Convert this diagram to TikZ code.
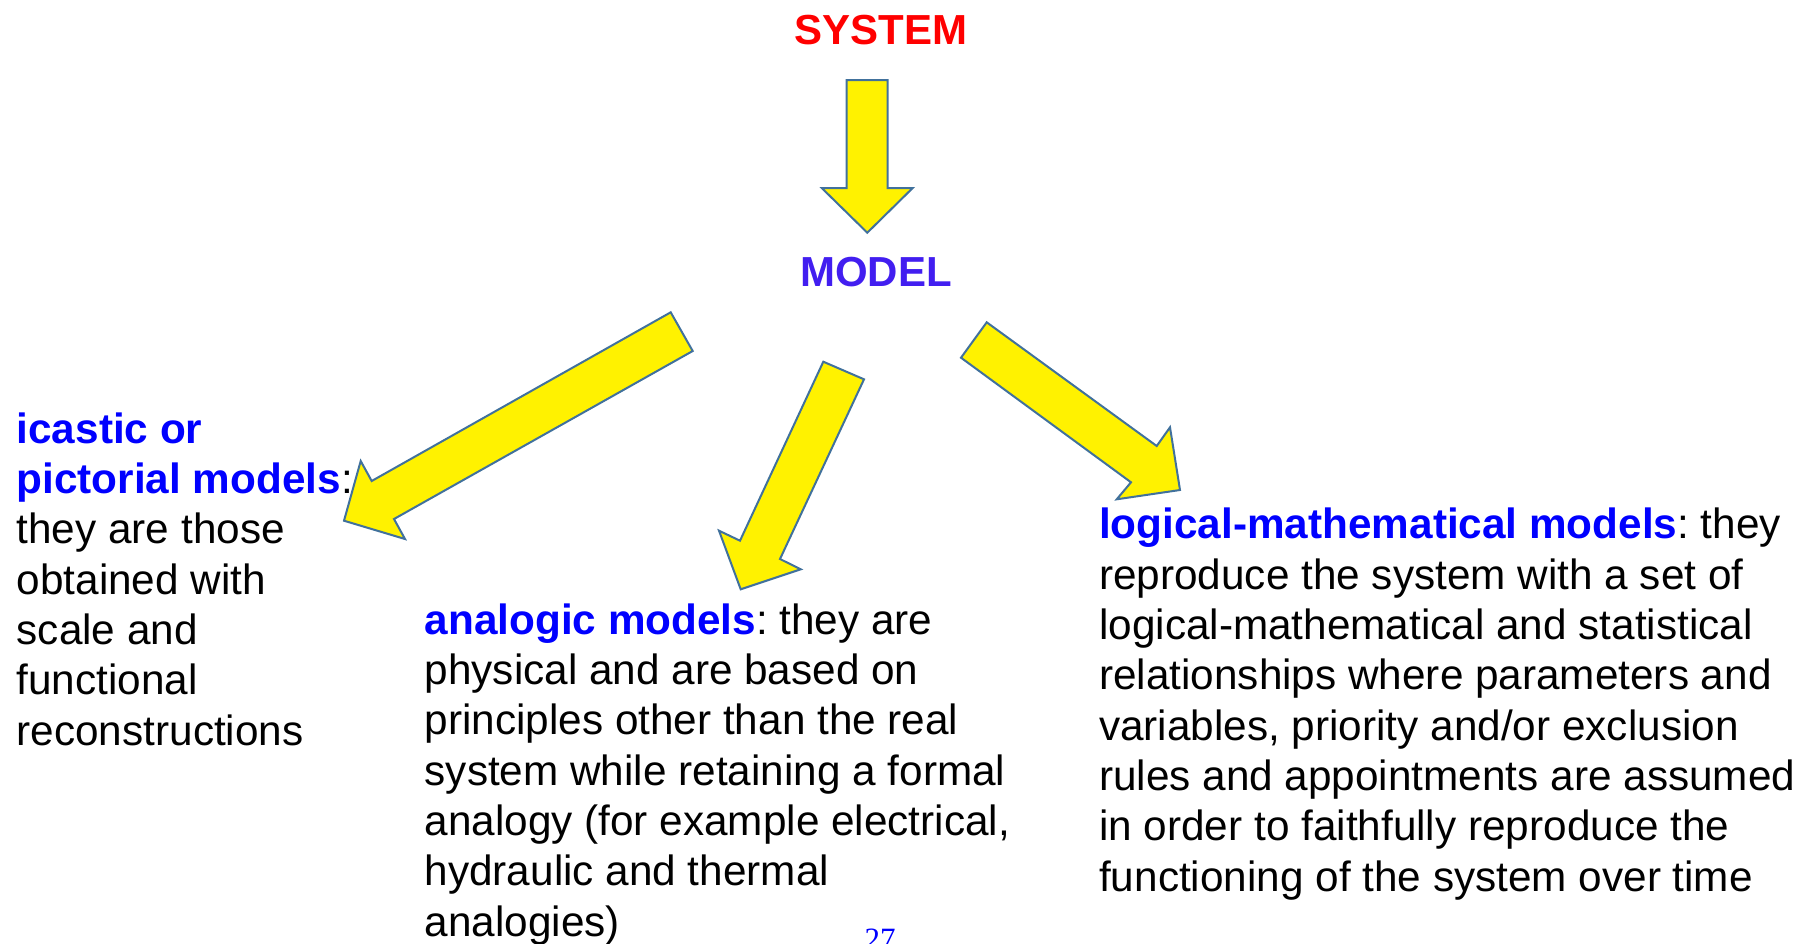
\documentclass[tikz,border=0pt]{standalone}
\usepackage{fontspec}
\setmainfont{Liberation Sans}
\newfontfamily\pagefont{Liberation Serif}
\definecolor{arrowedge}{RGB}{65,113,156}
\definecolor{headblue}{RGB}{0,0,255}
\definecolor{modelviolet}{RGB}{66,30,240}
\newcommand{\hd}[1]{{\color{headblue}\bfseries #1}}
\frenchspacing
\begin{document}
\begin{tikzpicture}[x=1pt,y=-1pt,
  blockarrow/.style={fill=yellow, draw=arrowedge, line width=2pt, line join=miter},
  title/.style={anchor=base, inner sep=0pt, font=\fontsize{42}{50}\selectfont\bfseries},
  % multi-line nodes: the base anchor sits on the last line's baseline
  body/.style={anchor=base west, align=left, inner sep=0pt, font=\fontsize{42.3}{50.3}\selectfont}]
\useasboundingbox (0,0) rectangle (1811,943);
\clip (0,0) rectangle (1811,943);

% titles
\node[title, text=red] (system) at (881,44) {SYSTEM};
\node[title, text=modelviolet] (model) at (876,286) {MODEL};

% block arrows
\draw[blockarrow] (846.7,80) -- (887.7,80) -- (887.7,188) -- (912.7,188)
  -- (867.3,232.7) -- (821.7,188) -- (846.7,188) -- cycle;
\draw[blockarrow] (670.7,312.3) -- (692.7,351) -- (394,519) -- (405,539)
  -- (344,520.7) -- (360.7,461) -- (371.7,481) -- cycle;
\draw[blockarrow] (823.3,361.7) -- (864,379.3) -- (780,559) -- (800.7,569.3)
  -- (740.7,589.3) -- (719,530.7) -- (740,540.7) -- cycle;
\draw[blockarrow] (986.7,322.3) -- (1156.7,446) -- (1170,427.3) -- (1180,490)
  -- (1116.7,499.3) -- (1131,482.3) -- (961,357.7) -- cycle;

% descriptions
\node[body] (icastic) at (16.5,745) {\hd{icastic or}\\
  \hd{pictorial models}:\\
  they are those\\
  obtained with\\
  scale and\\
  functional\\
  reconstructions};

\node[body] (analogic) at (424.5,936) {\hd{analogic models}: they are\\
  physical and are based on\\
  principles other than the real\\
  system while retaining a formal\\
  analogy (for example electrical,\\
  hydraulic and thermal\\
  analogies)};

\node[body] (logical) at (1099,891) {\hd{logical-mathematical models}: they\\
  reproduce the system with a set of\\
  logical-mathematical and statistical\\
  relationships where parameters and\\
  variables, priority and/or exclusion\\
  rules and appointments are assumed\\
  in order to faithfully reproduce the\\
  functioning of the system over time};

% page number
\node[anchor=base, inner sep=0pt, text=blue, font=\pagefont\fontsize{31}{31}\selectfont] (page) at (880,949) {27};
\end{tikzpicture}
\end{document}
